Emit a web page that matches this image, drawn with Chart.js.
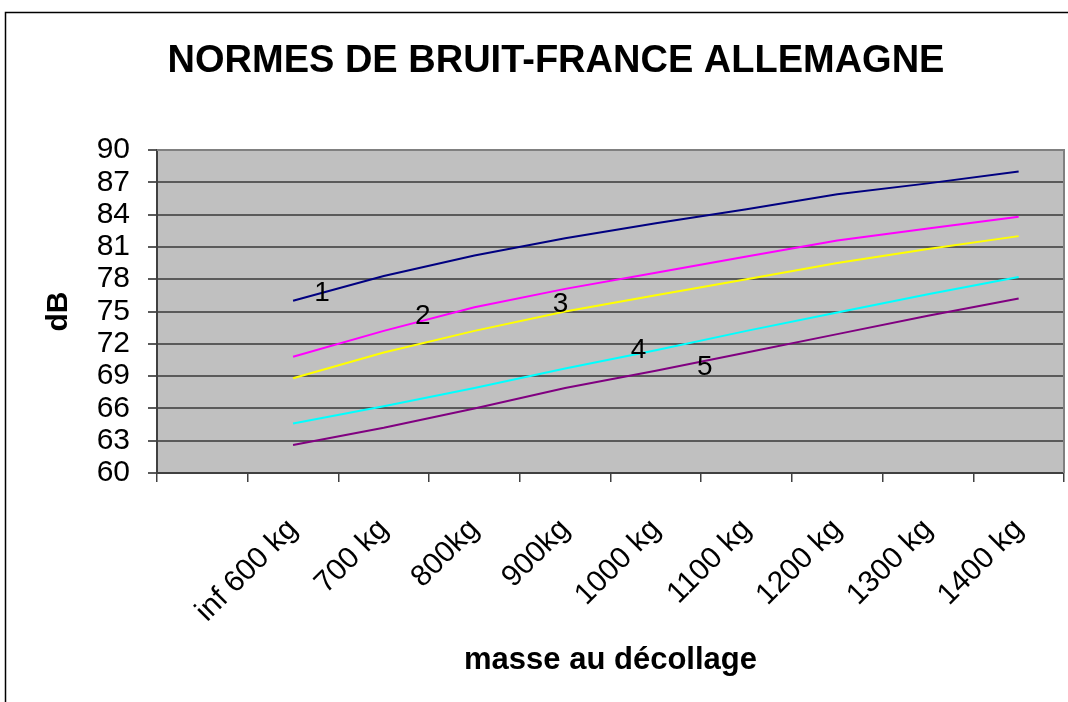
<!DOCTYPE html>
<html>
<head>
<meta charset="utf-8">
<title>Normes de bruit</title>
<script src="https://cdn.jsdelivr.net/npm/chart.js@4"></script>
<style>
  html, body { margin: 0; padding: 0; background: #fff; overflow: hidden; }
  .chart-box { width: 1068px; height: 702px; position: relative; }
</style>
</head>
<body>
<div class="chart-box"><canvas id="noiseChart"></canvas></div>
<script>
// Categories (first slot is empty in the original sheet)
const categories = ['', 'inf 600 kg', '700 kg', '800kg', '900kg', '1000 kg', '1100 kg', '1200 kg', '1300 kg', '1400 kg'];

// Noise limits in dB, one array per curve
const curve1 = [null, 76.0, 78.3, 80.2, 81.8, 83.2, 84.5, 85.9, 86.9, 88.0];
const curve2 = [null, 70.8, 73.2, 75.4, 77.1, 78.6, 80.1, 81.6, 82.7, 83.8];
const curve3 = [null, 68.8, 71.2, 73.2, 75.0, 76.5, 78.0, 79.5, 80.8, 82.0];
const curve4 = [null, 64.6, 66.2, 67.9, 69.7, 71.4, 73.2, 74.9, 76.6, 78.2];
const curve5 = [null, 62.6, 64.2, 66.0, 67.9, 69.5, 71.2, 72.9, 74.6, 76.2];

// Curve numbers written on the plot: [text, category index, dB]
const curveTags = [
  ['1', 1.32, 76.7],
  ['2', 2.43, 74.6],
  ['3', 3.95, 75.7],
  ['4', 4.81, 71.4],
  ['5', 5.54, 69.8]
];

const chartTitle = 'NORMES DE BRUIT-FRANCE ALLEMAGNE';
const yMin = 60;
const yMax = 90;
const yStep = 3;

// Grey plot background, outer frame, plot border, title and curve numbers
const framePlugin = {
  id: 'frame',
  beforeDraw(chart) {
    const { ctx, chartArea: a } = chart;
    ctx.save();
    ctx.fillStyle = '#ffffff';
    ctx.fillRect(0, 0, chart.width, chart.height);
    ctx.strokeStyle = '#000000';
    ctx.lineWidth = 1.5;
    ctx.strokeRect(5.5, 12.5, chart.width + 200, chart.height + 200);
    ctx.fillStyle = '#c0c0c0';
    ctx.fillRect(a.left, a.top, a.right - a.left, a.bottom - a.top);
    ctx.restore();
  },
  afterDatasetsDraw(chart) {
    const { ctx, chartArea: a, scales } = chart;
    ctx.save();
    ctx.strokeStyle = '#808080';
    ctx.lineWidth = 2;
    ctx.beginPath();
    ctx.moveTo(a.left, a.top);
    ctx.lineTo(a.right, a.top);
    ctx.lineTo(a.right, a.bottom);
    ctx.stroke();

    // curve numbers
    ctx.fillStyle = '#000000';
    ctx.font = '28px "Liberation Sans", Arial, sans-serif';
    ctx.textAlign = 'center';
    ctx.textBaseline = 'middle';
    curveTags.forEach(([txt, idx, val]) => {
      ctx.fillText(txt, scales.x.getPixelForValue(idx), scales.y.getPixelForValue(val));
    });

    // title, centred like the original sheet
    ctx.font = 'bold 38px "Liberation Sans", Arial, sans-serif';
    ctx.fillText(chartTitle, 556, 62);
    ctx.restore();
  }
};

const lineStyle = (label, data, color) => ({
  label,
  data,
  borderColor: color,
  backgroundColor: color,
  borderWidth: 2,
  pointRadius: 0,
  tension: 0,
  spanGaps: false
});

const ctx = document.getElementById('noiseChart').getContext('2d');
new Chart(ctx, {
  type: 'line',
  data: {
    labels: categories,
    datasets: [
      lineStyle('1', curve1, '#000080'),
      lineStyle('2', curve2, '#ff00ff'),
      lineStyle('3', curve3, '#ffff00'),
      lineStyle('4', curve4, '#00ffff'),
      lineStyle('5', curve5, '#800080')
    ]
  },
  options: {
    responsive: true,
    maintainAspectRatio: false,
    animation: false,
    layout: { padding: { left: 0, right: 4, top: 150, bottom: 0 } },
    plugins: {
      legend: { display: false },
      tooltip: { enabled: false },
      title: { display: false }
    },
    scales: {
      x: {
        offset: true,
        grid: {
          offset: true,
          drawOnChartArea: false,
          drawTicks: true,
          tickLength: 9,
          color: '#404040',
          lineWidth: 1.5
        },
        border: { color: '#404040', width: 2 },
        ticks: {
          autoSkip: false,
          minRotation: 45,
          maxRotation: 45,
          padding: 30,
          color: '#000000',
          font: { family: '"Liberation Sans", Arial, sans-serif', size: 30 }
        },
        title: {
          display: true,
          text: 'masse au décollage',
          color: '#000000',
          font: { family: '"Liberation Sans", Arial, sans-serif', size: 31, weight: 'bold', lineHeight: 1.2 },
          padding: { top: 0, bottom: 23 }
        },
        afterFit(scale) {
          scale.height = 229;
          scale.paddingLeft = 0;
          scale.paddingRight = 0;
        }
      },
      y: {
        min: yMin,
        max: yMax,
        grid: {
          color: '#5a5a5a',
          lineWidth: 2,
          tickLength: 9
        },
        border: { color: '#404040', width: 2 },
        ticks: {
          stepSize: yStep,
          autoSkip: false,
          padding: 18,
          color: '#000000',
          font: { family: '"Liberation Sans", Arial, sans-serif', size: 30, lineHeight: 1 }
        },
        title: {
          display: true,
          text: 'dB',
          color: '#000000',
          font: { family: '"Liberation Sans", Arial, sans-serif', size: 30, weight: 'bold', lineHeight: 1.2 },
          padding: { top: 41, bottom: 0 }
        },
        afterFit(scale) { scale.width = 157; }
      }
    }
  },
  plugins: [framePlugin]
});
</script>
</body>
</html>
